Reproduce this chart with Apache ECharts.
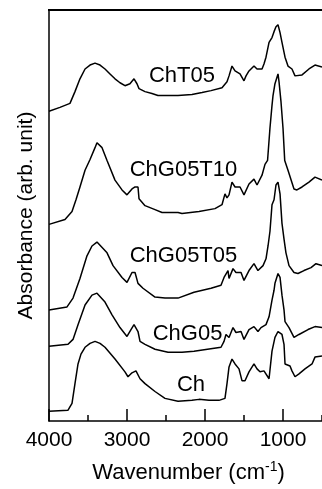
<!DOCTYPE html>
<html>
<head>
<meta charset="utf-8">
<script src="https://cdn.jsdelivr.net/npm/echarts@6/dist/echarts.min.js"></script>
<style>
  html, body { margin: 0; padding: 0; background: #fff; }
  #chart { width: 322px; height: 489px; }
</style>
</head>
<body>
<div id="chart"></div>
<script>
// spectra: [wavenumber (cm-1), absorbance (arb. unit)]
const chT05 = [[4000,315],[3987,315],[3860,319],[3731,323],[3667,335],[3603,348],[3538,358],[3474,362],[3410,364],[3346,362],[3282,358],[3218,353],[3154,348],[3090,344],[3026,341],[2962,343],[2910,348],[2872,343],[2846,338],[2769,335],[2680,333],[2603,331],[2474,331],[2346,331],[2167,332],[2038,334],[1923,336],[1782,339],[1718,345],[1692,351],[1654,361],[1615,356],[1551,353],[1500,346],[1474,351],[1436,356],[1372,361],[1333,358],[1269,358],[1244,363],[1218,370],[1179,385],[1141,390],[1115,396],[1090,401],[1064,403],[1038,395],[1013,385],[974,370],[936,361],[885,358],[846,351],[756,352],[667,358],[590,362],[500,360]];

const chG05T10 = [[4000,200],[3987,200],[3795,205],[3705,213],[3654,225],[3603,238],[3538,255],[3474,266],[3410,278],[3385,283],[3320,278],[3256,265],[3154,245],[3064,235],[3000,230],[2936,236],[2897,238],[2859,238],[2846,226],[2769,219],[2641,215],[2551,212],[2346,212],[2295,211],[2077,213],[1872,216],[1782,220],[1744,231],[1718,227],[1692,230],[1654,243],[1615,238],[1551,238],[1500,230],[1436,241],[1372,246],[1333,240],[1269,250],[1231,261],[1198,265],[1167,298],[1141,321],[1128,331],[1103,343],[1064,353],[1051,345],[1026,325],[1000,298],[978,265],[936,255],[859,236],[821,235],[756,238],[667,243],[590,248],[500,245]];

const chG05T05 = [[4000,113],[3987,113],[3769,116],[3692,125],[3603,145],[3513,168],[3449,178],[3385,182],[3256,171],[3179,158],[3064,146],[3000,141],[2936,151],[2897,151],[2859,140],[2795,135],[2641,126],[2513,125],[2346,125],[2141,131],[1923,135],[1795,138],[1756,146],[1705,153],[1692,145],[1641,155],[1603,151],[1538,151],[1500,143],[1436,153],[1372,160],[1321,153],[1256,158],[1218,165],[1192,178],[1167,193],[1141,220],[1115,225],[1090,240],[1064,243],[1038,231],[1013,201],[987,185],[962,171],[923,158],[859,151],[808,150],[731,153],[641,156],[577,160],[500,158]];

const chG05 = [[4000,76],[3987,76],[3756,78],[3692,83],[3628,98],[3538,118],[3449,128],[3385,130],[3282,121],[3192,108],[3090,95],[3000,86],[2949,93],[2910,98],[2859,91],[2833,81],[2769,78],[2641,73],[2474,70],[2295,70],[2141,71],[1795,75],[1756,81],[1731,88],[1692,85],[1641,95],[1603,90],[1538,91],[1500,83],[1436,93],[1372,96],[1321,91],[1282,95],[1218,98],[1179,106],[1141,123],[1115,133],[1103,140],[1064,150],[1038,146],[1013,128],[987,113],[974,101],[923,95],[859,85],[795,88],[679,93],[590,96],[500,95]];

const ch = [[4000,10],[3987,10],[3756,11],[3705,18],[3667,38],[3628,58],[3590,68],[3538,75],[3474,79],[3410,81],[3346,79],[3282,75],[3154,63],[3026,50],[2987,45],[2936,49],[2885,51],[2833,43],[2769,38],[2641,30],[2513,23],[2346,20],[2167,21],[2077,22],[1949,21],[1821,21],[1744,23],[1718,38],[1692,55],[1654,63],[1615,58],[1564,53],[1526,41],[1487,41],[1436,50],[1372,58],[1333,53],[1295,50],[1244,51],[1179,43],[1141,71],[1103,85],[1064,91],[1013,88],[987,78],[974,58],[910,56],[885,51],[846,45],[795,48],[718,53],[628,58],[590,65],[500,66]];

const seriesNames = ['ChT05', 'ChG05T10', 'ChG05T05', 'ChG05', 'Ch'];
const seriesData = [chT05, chG05T10, chG05T05, chG05, ch];
// where each curve's name is written, in data units
const labelAt = [[2295,351], [2276,255], [2276,168], [2224,89], [2179,37]];

const majorTicks = [1000, 2000, 3000, 4000];

const font = '"Liberation Sans", Arial, Helvetica, sans-serif';

// both x axes share one scale; each gets curves so both are drawn
const xAxisOf = [1, 0, 0, 0, 0];

let myChart = echarts.init(document.getElementById('chart'));

let series = seriesData.map(function (d, i) {
  return {
    name: seriesNames[i],
    type: 'line',
    xAxisIndex: xAxisOf[i],
    data: d,
    showSymbol: false,
    symbol: 'none',
    silent: true,
    animation: false,
    lineStyle: { color: '#000', width: 1.5 },
    markPoint: {
      symbol: 'circle',
      symbolSize: 1,
      silent: true,
      itemStyle: { color: 'rgba(0,0,0,0)' },
      label: {
        show: true,
        formatter: seriesNames[i],
        color: '#000',
        fontFamily: font,
        fontSize: 22,
        position: 'inside'
      },
      data: [{ coord: labelAt[i] }]
    }
  };
});

myChart.setOption({
  animation: false,
  grid: { left: 49, right: -2, top: 10, bottom: 61 },
  // top edge of the frame
  graphic: {
    elements: [{
      type: 'rect',
      silent: true,
      z: 100,
      left: 48,
      top: 9,
      shape: { width: 276, height: 2 },
      style: { fill: '#000' }
    }]
  },
  xAxis: [{
    type: 'value',
    inverse: true,
    min: 500,
    max: 4000,
    position: 'bottom',
    name: 'Wavenumber (cm{sup|-1})',
    nameLocation: 'middle',
    nameGap: 39,
    nameTextStyle: {
      color: '#000',
      fontFamily: font,
      fontSize: 22,
      padding: [0, 0, 0, 6],
      rich: {
        sup: { fontSize: 14, verticalAlign: 'top', padding: [0, 0, 12, 0], fontFamily: font, color: '#000' }
      }
    },
    splitLine: { show: false },
    axisLine: { show: true, onZero: false, lineStyle: { color: '#000', width: 1.5 } },
    axisTick: { inside: true, length: 12, customValues: majorTicks, lineStyle: { color: '#000', width: 1.5 } },
    axisLabel: {
      customValues: majorTicks,
      color: '#000',
      fontFamily: font,
      fontSize: 21,
      margin: 9,
      formatter: function (v) { return String(v); }
    }
  }, {
    // short ticks every 500
    type: 'value',
    inverse: true,
    min: 500,
    max: 4000,
    interval: 500,
    position: 'bottom',
    splitLine: { show: false },
    axisLine: { show: false, onZero: false },
    axisTick: { show: true, inside: true, length: 6, lineStyle: { color: '#000', width: 1.5 } },
    axisLabel: { show: false }
  }],
  yAxis: {
    type: 'value',
    min: 0,
    max: 418,
    name: 'Absorbance (arb. unit)',
    nameLocation: 'middle',
    nameGap: 12,
    nameTextStyle: { color: '#000', fontFamily: font, fontSize: 21 },
    splitLine: { show: false },
    axisLine: { show: true, onZero: false, lineStyle: { color: '#000', width: 1.5 } },
    axisTick: { show: false },
    axisLabel: { show: false }
  },
  series: series
});
</script>
</body>
</html>
